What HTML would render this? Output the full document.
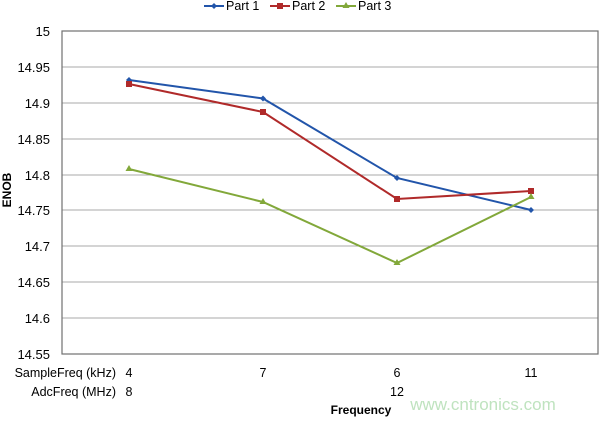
<!DOCTYPE html>
<html><head><style>
body{margin:0;background:#fff;}
svg text{font-family:"Liberation Sans",sans-serif;fill:#000;}
</style></head><body>
<svg width="600" height="419" xmlns="http://www.w3.org/2000/svg">
<g stroke="#a8a8a8" stroke-width="1">
<line x1="62" x2="598" y1="67" y2="67"/><line x1="62" x2="598" y1="103" y2="103"/>
<line x1="62" x2="598" y1="139" y2="139"/><line x1="62" x2="598" y1="175" y2="175"/>
<line x1="62" x2="598" y1="210" y2="210"/><line x1="62" x2="598" y1="246" y2="246"/>
<line x1="62" x2="598" y1="282" y2="282"/><line x1="62" x2="598" y1="318" y2="318"/>
</g>
<rect x="62" y="31" width="536" height="323" fill="none" stroke="#707070" stroke-width="1.2"/>
<g font-size="13" text-anchor="end">
<text x="50" y="36">15</text><text x="50" y="72">14.95</text><text x="50" y="108">14.9</text>
<text x="50" y="144">14.85</text><text x="50" y="180">14.8</text><text x="50" y="215">14.75</text>
<text x="50" y="251">14.7</text><text x="50" y="287">14.65</text><text x="50" y="323">14.6</text>
<text x="50" y="359">14.55</text>
</g>
<text transform="translate(11,190) rotate(-90)" font-size="12" font-weight="bold" text-anchor="middle">ENOB</text>
<g font-size="12.5">
<text x="116" y="377" text-anchor="end">SampleFreq (kHz)</text>
<text x="116" y="396" text-anchor="end">AdcFreq (MHz)</text>
<text x="129" y="377" text-anchor="middle">4</text><text x="263" y="377" text-anchor="middle">7</text>
<text x="397" y="377" text-anchor="middle">6</text><text x="531" y="377" text-anchor="middle">11</text>
<text x="129" y="396" text-anchor="middle">8</text><text x="397" y="396" text-anchor="middle">12</text>
</g>
<text x="361" y="414" font-size="12" font-weight="bold" text-anchor="middle">Frequency</text>
<text x="483" y="410" font-size="17" text-anchor="middle" style="fill:#bfe3bf">www.cntronics.com</text>
<polyline points="129,80 263,98.5 397,178 531,210" fill="none" stroke="#2255aa" stroke-width="2"/>
<polyline points="129,84 263,112 397,199 531,191" fill="none" stroke="#b02a2a" stroke-width="2"/>
<polyline points="129,169 263,202 397,263 531,197" fill="none" stroke="#82a83a" stroke-width="2"/>
<g fill="#2255aa">
<path d="M129,77 l3,3 -3,3 -3,-3z"/><path d="M263,95.5 l3,3 -3,3 -3,-3z"/><path d="M397,175 l3,3 -3,3 -3,-3z"/><path d="M531,207 l3,3 -3,3 -3,-3z"/>
</g>
<g fill="#b02a2a">
<rect x="126" y="81" width="6" height="6"/><rect x="260" y="109" width="6" height="6"/><rect x="394" y="196" width="6" height="6"/><rect x="528" y="188" width="6" height="6"/>
</g>
<g fill="#82a83a">
<path d="M129,165 l3.5,6 -7,0z"/><path d="M263,198 l3.5,6 -7,0z"/><path d="M397,259 l3.5,6 -7,0z"/><path d="M531,193 l3.5,6 -7,0z"/>
</g>
<g font-size="12.5">
<line x1="204" x2="224" y1="6" y2="6" stroke="#2255aa" stroke-width="2"/><path d="M214,3 l3,3 -3,3 -3,-3z" fill="#2255aa"/>
<text x="226" y="10">Part 1</text>
<line x1="270" x2="290" y1="6" y2="6" stroke="#b02a2a" stroke-width="2"/><rect x="277" y="3" width="6" height="6" fill="#b02a2a"/>
<text x="292" y="10">Part 2</text>
<line x1="336" x2="356" y1="6" y2="6" stroke="#82a83a" stroke-width="2"/><path d="M346,2 l3.5,6 -7,0z" fill="#82a83a"/>
<text x="358" y="10">Part 3</text>
</g>
</svg>
</body></html>
